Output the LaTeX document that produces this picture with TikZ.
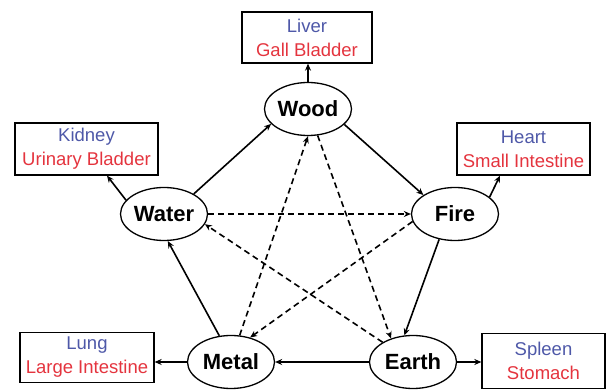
\documentclass[tikz,border=0pt]{standalone}
\usepackage{fontspec}
\setmainfont{Liberation Sans}
\usetikzlibrary{arrows.meta,shapes.geometric}
\definecolor{orgblue}{RGB}{78,88,168}
\definecolor{orgred}{RGB}{228,52,62}
\tikzset{
  elem/.style={draw,ellipse,line width=1.3pt,inner sep=0pt,minimum width=87pt,minimum height=53pt,font=\fontsize{22}{24}\selectfont\bfseries},
  organ/.style={draw,rectangle,line width=1.3pt,inner sep=0pt,align=center,font=\fontsize{18.5}{24}\selectfont},
  conn/.style={line width=1.6pt,-{Stealth[length=7pt,width=6pt]}},
  dconn/.style={conn,dash pattern=on 6pt off 4pt}
}
\newcommand{\organtext}[2]{\textcolor{orgblue}{#1}\\\textcolor{orgred}{#2}}
\begin{document}
\begin{tikzpicture}[x=1pt,y=1pt]
\useasboundingbox (0,0) rectangle (606,-390);
% elements
\node[elem] (wood)  at (308,-109) {Wood};
\node[elem] (water) at (164,-214) {Water};
\node[elem] (fire)  at (455,-214) {Fire};
\node[elem] (metal) at (231,-362) {Metal};
\node[elem] (earth) at (413,-362) {Earth};
% organs
\node[organ,minimum width=130pt,minimum height=51pt] (liver)  at (307,-37.5) {\organtext{Liver}{Gall Bladder}};
\node[organ,minimum width=143pt,minimum height=52pt] (kidney) at (86.5,-149) {\organtext{Kidney}{Urinary Bladder}};
\node[organ,minimum width=133pt,minimum height=52pt] (heart)  at (523.5,-149) {\organtext{Heart}{Small Intestine}};
\node[organ,minimum width=134pt,minimum height=50pt] (lung)   at (87,-357.5) {\organtext{Lung}{Large Intestine}};
\node[organ,minimum width=123pt,minimum height=55pt] (spleen) at (543.5,-361) {\organtext{Spleen}{Stomach}};
% generating cycle (solid)
\draw[conn] (water.34) -- (wood.202);
\draw[conn] (wood.337) -- (fire.149);
\draw[conn] (fire.238) -- (earth.108);
\draw[conn] (earth.west) -- (metal.east);
\draw[conn] (metal.114) -- (water.278);
% controlling cycle (dashed)
\draw[dconn] (metal.72) -- (wood.270);
\draw[dconn] (wood.290) -- (earth.133);
\draw[dconn] (earth.147) -- (water.346);
\draw[dconn] (water.east) -- (fire.west);
\draw[dconn] (fire.190) -- (metal.52);
% organs
\draw[conn] (wood.north) -- (wood.north |- liver.south);
\draw[conn] (water.160) -- (kidney.south -| 107,0);
\draw[conn] (fire.26) -- (heart.south -| 500,0);
\draw[conn] (metal.west) -- (metal.west -| lung.east);
\draw[conn] (earth.east) -- (earth.east -| spleen.west);
\end{tikzpicture}
\end{document}
